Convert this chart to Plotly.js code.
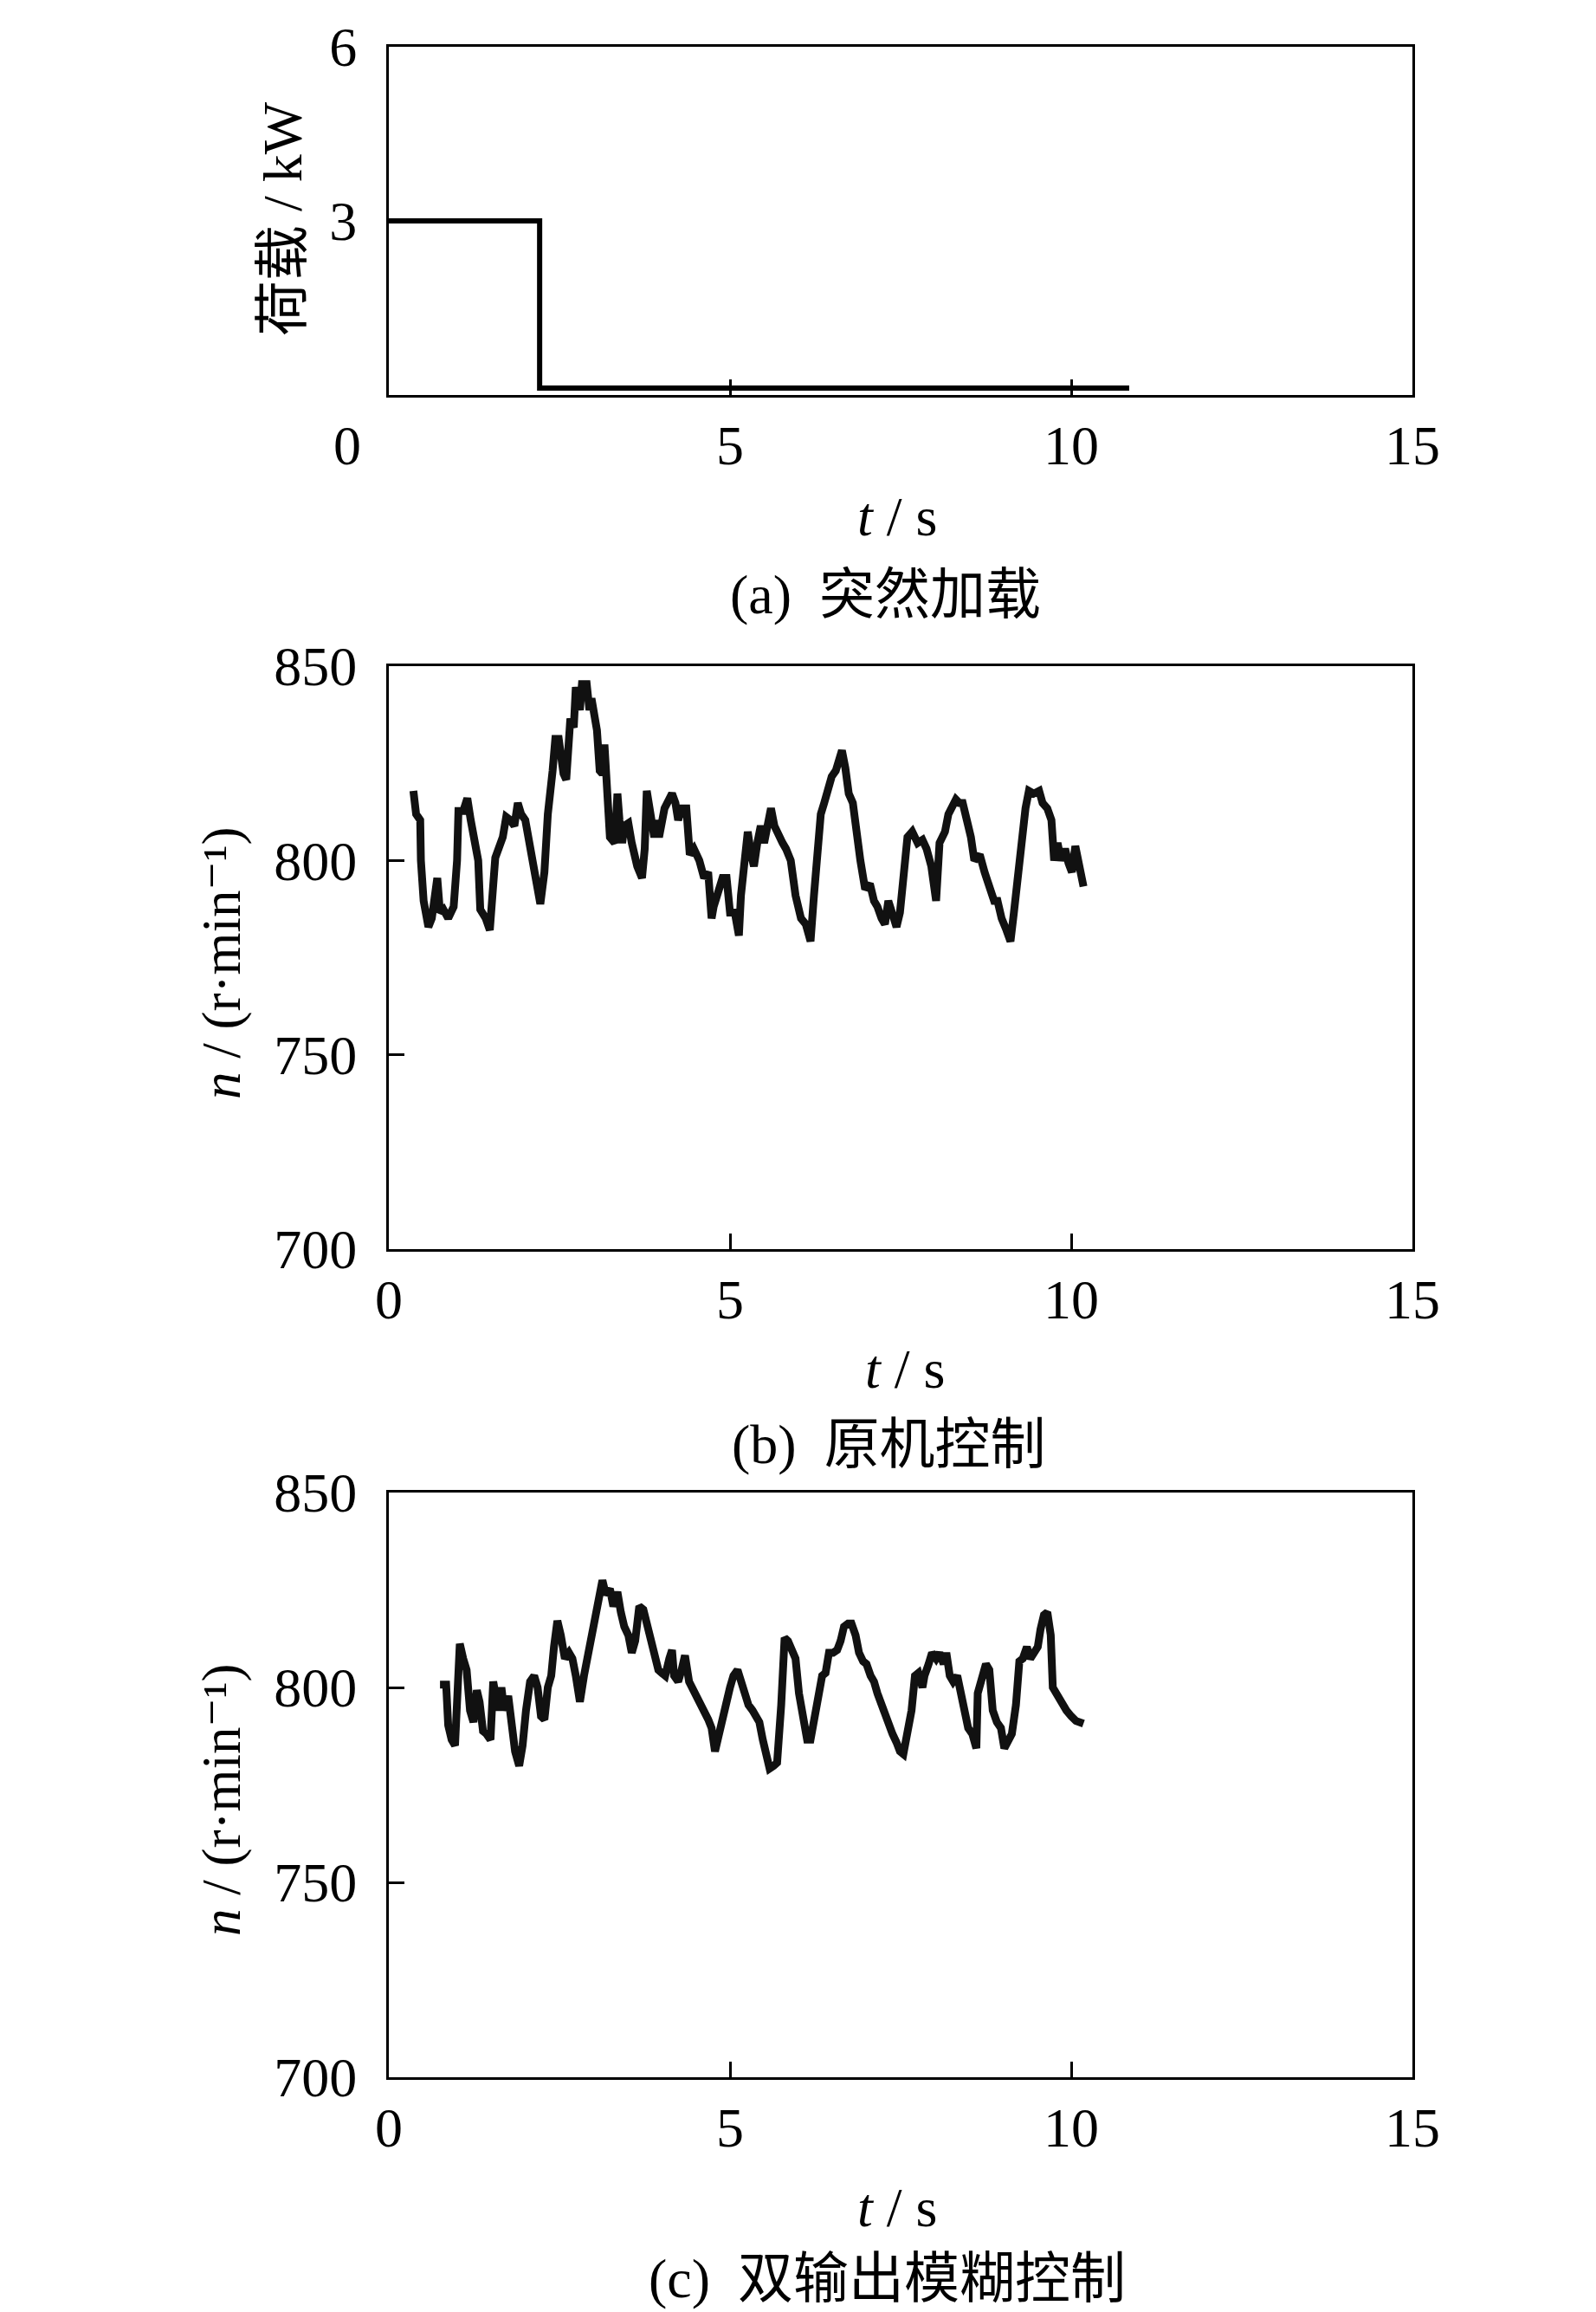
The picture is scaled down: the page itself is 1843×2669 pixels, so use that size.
<!DOCTYPE html>
<html>
<head>
<meta charset="utf-8">
<script src="https://cdn.plot.ly/plotly-3.0.1.min.js"></script>
<style>
  html, body { margin: 0; padding: 0; background: #fff; }
  #chart { width: 1843px; height: 2669px; }
</style>
</head>
<body>
<div id="chart"></div>
<script>
// (a) load step
var tLoad = [0, 2.21, 10.85];
var load = [3, 0.12, 0.12];

// (b) original controller speed, r/min
var tOrig = [0.36, 0.40, 0.46, 0.47, 0.51, 0.58, 0.63, 0.68, 0.71, 0.75, 0.80, 0.87, 0.95, 1.00, 1.02, 1.09, 1.15, 1.20,
  1.26, 1.31, 1.34, 1.42, 1.48, 1.51, 1.54, 1.56, 1.67, 1.72, 1.78, 1.84, 1.89, 1.94, 2.00, 2.06, 2.11, 2.16, 2.22,
  2.28, 2.33, 2.40, 2.44, 2.49, 2.52, 2.56, 2.60, 2.64, 2.66, 2.71, 2.74, 2.80, 2.83, 2.90, 2.94, 2.97, 3.02, 3.05,
  3.09, 3.13, 3.16, 3.20, 3.24, 3.31, 3.35, 3.38, 3.42, 3.45, 3.51, 3.56, 3.64, 3.71, 3.75, 3.78, 3.83, 3.89, 3.93,
  3.96, 4.04, 4.09, 4.15, 4.20, 4.24, 4.29, 4.36, 4.41, 4.47, 4.55, 4.62, 4.68, 4.73, 4.76, 4.82, 4.89, 4.95, 5.00,
  5.07, 5.13, 5.16, 5.20, 5.26, 5.31, 5.35, 5.40, 5.45, 5.50, 5.55, 5.60, 5.65, 5.71, 5.77, 5.82, 5.89, 5.96, 6.04,
  6.11, 6.18, 6.23, 6.28, 6.33, 6.38, 6.44, 6.49, 6.55, 6.60, 6.64, 6.69, 6.74, 6.80, 6.86, 6.91, 6.98, 7.05, 7.11,
  7.16, 7.22, 7.27, 7.32, 7.38, 7.44, 7.49, 7.54, 7.60, 7.67, 7.75, 7.82, 7.88, 7.95, 8.02, 8.07, 8.15, 8.20, 8.25,
  8.31, 8.36, 8.41, 8.47, 8.53, 8.58, 8.66, 8.73, 8.80, 8.87, 8.92, 8.98, 9.05, 9.11, 9.16, 9.21, 9.27, 9.33, 9.38,
  9.45, 9.53, 9.58, 9.65, 9.71, 9.75, 9.80, 9.85, 9.91, 9.96, 10.01, 10.06, 10.11, 10.15, 10.18];
var nOrig = [817.9, 811.9, 810.4, 800, 789.6, 782.9, 785.1, 794.8, 795.5, 786.6, 787.4, 785.1, 788.1, 800, 812.7, 812.7, 816.0, 810.4,
  804.5, 800, 787.4, 785.1, 782.1, 792.6, 800, 800.7, 806, 811.2, 810.4, 808.9, 814.8, 811.9, 810.4, 804.5, 800, 793.3, 788.8,
  797.0, 811.9, 823.1, 831.3, 831.3, 826.8, 822.3, 820.8, 828.3, 836.5, 834.2, 844.6, 838.7, 845.4, 845.4, 838.7, 841.7, 834.2, 833.5,
  823.1, 822.3, 829.8, 813.4, 806, 804.5, 817.2, 810.4, 804.5, 808.9, 809.6, 804.5, 798.5, 795.5, 803, 817.9, 813.4, 806, 810.4,
  806, 813.4, 814.8, 817.2, 814.8, 810.4, 813.4, 813.4, 801.5, 803, 800, 795.5, 797, 785.1, 788.1, 791, 795.5, 795.5, 786.6,
  786.6, 780.7, 791, 800, 807.4, 801.5, 798.5, 804.5, 808.9, 804.5, 808.9, 813.4, 808.9, 806, 804.5, 803, 800, 791, 785.1,
  783.6, 779.2, 791, 800, 811.9, 814.8, 819.3, 821.6, 823.1, 825.3, 828.3, 823.8, 817.2, 814.8, 804.5, 800, 792.6, 794, 789.6,
  788.1, 785.1, 783.6, 789.6, 786.6, 782.9, 786.6, 795.5, 806, 807.4, 804.5, 805.3, 803, 798.5, 789.6, 804.5, 807.4, 811.9, 813.4,
  815.7, 814.8, 814.8, 810.4, 806, 800, 801.5, 797, 792.6, 789.6, 789.6, 785.1, 782.1, 779.2, 786.6, 795.5, 806, 813.4, 817.9,
  817.2, 817.9, 814.8, 813.4, 810.4, 800, 804.5, 800, 803, 799.3, 797, 803.7, 800, 797, 793.3];

// (c) dual-output fuzzy controller speed, r/min
var tFuzzy = [0.75, 0.84, 0.87, 0.92, 0.97, 1.00, 1.04, 1.09, 1.14, 1.19, 1.24, 1.29, 1.33, 1.38, 1.43, 1.49, 1.53, 1.56,
  1.60, 1.65, 1.69, 1.75, 1.80, 1.85, 1.91, 1.96, 2.01, 2.07, 2.13, 2.18, 2.23, 2.28, 2.33, 2.38, 2.42, 2.47, 2.52,
  2.58, 2.64, 2.69, 2.74, 2.80, 2.86, 2.91, 2.96, 3.02, 3.08, 3.13, 3.18, 3.24, 3.29, 3.35, 3.40, 3.45, 3.51, 3.56,
  3.61, 3.67, 3.73, 3.78, 3.83, 3.89, 3.95, 4.00, 4.05, 4.11, 4.15, 4.18, 4.24, 4.29, 4.34, 4.40, 4.47, 4.55, 4.62,
  4.68, 4.73, 4.78, 4.84, 4.89, 4.95, 5.00, 5.05, 5.11, 5.16, 5.21, 5.27, 5.33, 5.38, 5.43, 5.48, 5.53, 5.58, 5.64,
  5.69, 5.75, 5.80, 5.85, 5.91, 5.96, 6.01, 6.07, 6.13, 6.18, 6.23, 6.29, 6.35, 6.40, 6.45, 6.51, 6.57, 6.62, 6.67,
  6.73, 6.78, 6.84, 6.89, 6.95, 7.00, 7.06, 7.11, 7.16, 7.22, 7.27, 7.32, 7.38, 7.44, 7.49, 7.54, 7.60, 7.66, 7.71,
  7.76, 7.82, 7.85, 7.91, 7.96, 8.02, 8.07, 8.13, 8.17, 8.22, 8.27, 8.33, 8.39, 8.44, 8.49, 8.55, 8.61, 8.63, 8.69,
  8.75, 8.80, 8.85, 8.91, 8.97, 9.02, 9.07, 9.13, 9.19, 9.24, 9.29, 9.35, 9.40, 9.46, 9.51, 9.55, 9.60, 9.65, 9.70,
  9.73, 9.78, 9.86, 9.93, 10.00, 10.07, 10.18];
var nFuzzy = [800.7, 800.7, 790.3, 786.6, 785.1, 795.5, 811.2, 807.4, 804.5, 794.1, 791.1, 799.3, 796.3, 788.8, 788.1, 786.6, 801.5, 798.5,
  794.1, 800, 794.1, 797.8, 789.6, 783.6, 779.9, 785.1, 794.1, 801.5, 803, 800, 792.6, 791.8, 800, 803, 810.4, 817.1, 813.4,
  807.4, 808.9, 807.4, 803, 796.3, 803, 807.4, 811.9, 817.9, 823.8, 827.5, 823.8, 825.3, 820.8, 824.5, 819.3, 815.6, 813.4, 808.9,
  811.9, 820.8, 820, 816.4, 811.9, 808.9, 804.5, 803.7, 803, 807.4, 809.6, 803, 801.5, 804.5, 808.2, 801.5, 799.3, 796.3, 794.1,
  791.8, 789.6, 783.6, 788.1, 791.1, 796.3, 800, 803, 804.5, 801.5, 798.5, 795.5, 794.1, 792.6, 791.1, 786.6, 783.6, 779.2, 779.9,
  780.7, 795.5, 812.7, 811.9, 808.9, 807.4, 798.5, 792.6, 786.6, 786.6, 791.1, 797, 803, 803.7, 808.9, 808.9, 809.6, 811.9, 815.6,
  816.4, 816.4, 813.4, 808.9, 806.7, 806, 803, 801.5, 798.5, 795.5, 792.6, 789.6, 788.1, 785.9, 783.6, 782.9, 788.1, 794.1, 803,
  803.7, 800, 803, 806, 808.9, 807.4, 808.9, 806, 808.9, 803, 801.5, 803, 798.5, 792.6, 789.6, 788.1, 784.4, 798.5, 801.5,
  806, 804.5, 794.1, 791.1, 789.6, 784.4, 786.6, 788.1, 795.5, 806.7, 807.4, 810.4, 807.4, 808.9, 810.4, 814.9, 818.6, 819.3, 813.4,
  800, 798.5, 795.5, 794.1, 792.6, 791.4, 790.7];

var xTicks = [0, 5, 10, 15];
var speedTicks = [700, 750, 800, 850];
var loadTicks = [3, 6];

var W = 1843, H = 2669;
function fx(p) { return p / W; }
function fy(p) { return 1 - p / H; }

var serif = 'Liberation Serif, Times New Roman, Noto Sans CJK SC, serif';
var mixed = 'Liberation Serif, DejaVu Serif, Noto Sans CJK SC, serif';
var tickFont = { family: serif, size: 64, color: '#000' };

function xAxis(anchor, labels) {
  return {
    anchor: anchor,
    domain: [fx(449), fx(1631)],
    range: [0, 15],
    tickmode: 'array',
    tickvals: xTicks,
    ticktext: labels,
    ticks: 'inside',
    ticklen: 18,
    tickwidth: 3,
    tickcolor: '#000',
    showline: true,
    linewidth: 3,
    linecolor: '#000',
    mirror: true,
    showgrid: false,
    zeroline: false,
    tickfont: tickFont,
    ticklabelstandoff: 0
  };
}

function yAxis(anchor, top, bottom, range, vals) {
  return {
    anchor: anchor,
    domain: [fy(bottom), fy(top)],
    range: range,
    tickmode: 'array',
    tickvals: vals,
    ticks: 'inside',
    ticklen: 18,
    tickwidth: 3,
    tickcolor: '#000',
    showline: true,
    linewidth: 3,
    linecolor: '#000',
    mirror: true,
    showgrid: false,
    zeroline: false,
    tickfont: tickFont,
    ticklabelstandoff: 21
  };
}

var traces = [
  { x: tLoad, y: load, xaxis: 'x', yaxis: 'y', type: 'scatter', mode: 'lines',
    line: { color: '#000', width: 6, shape: 'hv' } },
  { x: tOrig, y: nOrig, xaxis: 'x2', yaxis: 'y2', type: 'scatter', mode: 'lines',
    line: { color: '#111', width: 9 } },
  { x: tFuzzy, y: nFuzzy, xaxis: 'x3', yaxis: 'y3', type: 'scatter', mode: 'lines',
    line: { color: '#111', width: 9 } }
];

function note(text, x, y, angle, size) {
  return {
    text: text, xref: 'paper', yref: 'paper', x: fx(x), y: fy(y),
    xanchor: 'center', yanchor: 'middle', showarrow: false,
    textangle: angle || 0,
    font: { family: mixed, size: size || 64, color: '#000' }
  };
}

var yLoad = yAxis('x', 54, 456, [0, 6], loadTicks);
// bottom tick mark at 0 kW has no label in the original
yLoad.minor = { tickmode: 'array', tickvals: [0], ticks: 'inside', ticklen: 18, tickwidth: 3, tickcolor: '#000', showgrid: false };

var speedTitle = '<i>n</i> / (r·min\u207b\u00b9)';

var layout = {
  width: W,
  height: H,
  margin: { l: 0, r: 0, t: 0, b: 0 },
  paper_bgcolor: '#fff',
  plot_bgcolor: '#fff',
  showlegend: false,
  xaxis: xAxis('y', ['0\u00a0\u00a0\u00a0\u00a0\u00a0\u00a0', '5', '10', '15']),
  yaxis: yLoad,
  xaxis2: xAxis('y2', ['0', '5', '10', '15']),
  yaxis2: yAxis('x2', 769, 1442, [700, 850], speedTicks),
  xaxis3: xAxis('y3', ['0', '5', '10', '15']),
  yaxis3: yAxis('x3', 1723, 2398, [700, 850], speedTicks),
  annotations: [
    note('荷载 / kW', 327, 253, -90, 64),
    note('<i>t</i> / s', 1036, 597, 0, 64),
    note('(a)  突然加载', 1022, 686, 0, 64),
    note(speedTitle, 256, 1112, -90, 63),
    note('<i>t</i> / s', 1045, 1580, 0, 64),
    note('(b)  原机控制', 1026, 1667, 0, 64),
    note(speedTitle, 256, 2078, -90, 63),
    note('<i>t</i> / s', 1036, 2548, 0, 64),
    note('(c)  双输出模糊控制', 1024, 2630, 0, 64)
  ]
};

Plotly.newPlot('chart', traces, layout, { staticPlot: true, displayModeBar: false });
</script>
</body>
</html>
